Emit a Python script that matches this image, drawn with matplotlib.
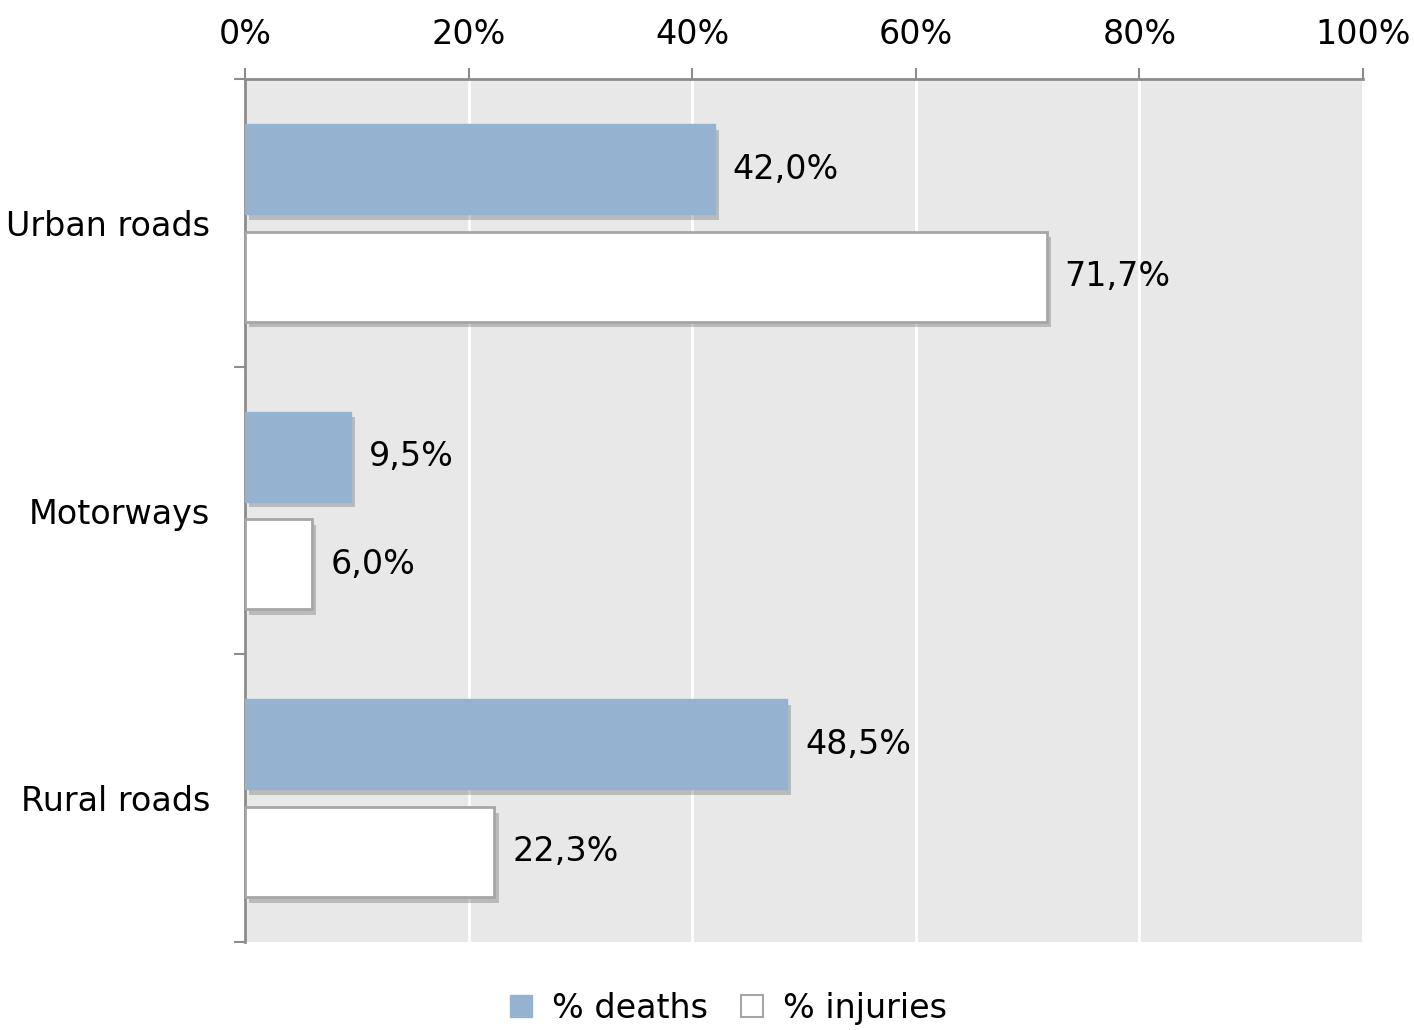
import matplotlib.pyplot as plt
import matplotlib.patheffects as pe
from matplotlib.patches import Patch
import numpy as np

categories = ["Urban roads", "Motorways", "Rural roads"]
deaths = [42.0, 9.5, 48.5]
injuries = [71.7, 6.0, 22.3]
xticks = [0, 20, 40, 60, 80, 100]

plt.rcParams['font.family'] = ['DejaVu Sans']
plt.rcParams['font.size'] = 24

fig = plt.figure(figsize=(14.14, 10.30), dpi=100)
ax = fig.add_axes([0.1733, 0.0854, 0.7907, 0.8379])
ax.set_facecolor('#E8E8E8')

y = np.arange(len(categories)) + 0.5
h = 0.313
off = 0.187
shadow = [pe.SimplePatchShadow(offset=(3, -4), shadow_rgbFace='#505050', alpha=0.3), pe.Normal()]

b1 = ax.barh(y - off, deaths, height=h, color='#95B3D0', edgecolor='#95B3D0', linewidth=1, zorder=3)
b2 = ax.barh(y + off, injuries, height=h, color='white', edgecolor='#A6A6A6', linewidth=2, zorder=3)
for b in list(b1) + list(b2):
    b.set_path_effects(shadow)

for yy, v in zip(y - off, deaths):
    ax.annotate(f"{v:.1f}%".replace('.', ','), (v, yy), xytext=(13, 0), textcoords='offset points',
                va='center', ha='left')
for yy, v in zip(y + off, injuries):
    ax.annotate(f"{v:.1f}%".replace('.', ','), (v, yy), xytext=(13, 0), textcoords='offset points',
                va='center', ha='left')

ax.set_xlim(0, 100)
ax.set_ylim(3, 0)
ax.set_xticks(xticks)
ax.set_xticklabels([f"{t}%" for t in xticks])
ax.xaxis.tick_top()
ax.tick_params(axis='x', direction='out', length=8, width=1.5, color='#8C8C8C', pad=12)
ax.set_yticks([0, 1, 2, 3])
ax.set_yticklabels([])
ax.set_yticks(y, minor=True)
ax.set_yticklabels(categories, minor=True)
ax.tick_params(axis='y', which='major', direction='out', length=8, width=1.5, color='#8C8C8C')
ax.tick_params(axis='y', which='minor', length=0, pad=25)

ax.grid(axis='x', color='white', linewidth=2, zorder=0)
ax.set_axisbelow(True)
for s in ['right', 'bottom']:
    ax.spines[s].set_visible(False)
for s in ['left', 'top']:
    ax.spines[s].set_color('#8C8C8C')
    ax.spines[s].set_linewidth(2)

handles = [Patch(facecolor='#95B3D0', edgecolor='#95B3D0'),
           Patch(facecolor='white', edgecolor='#A6A6A6', linewidth=1.5)]
fig.legend(handles, ['% deaths', '% injuries'], loc='center', bbox_to_anchor=(0.515, 0.021),
           ncol=2, frameon=False, handlelength=0.65, handleheight=0.65,
           handletextpad=0.6, columnspacing=1.0)

fig.savefig('out.png', dpi=100)
